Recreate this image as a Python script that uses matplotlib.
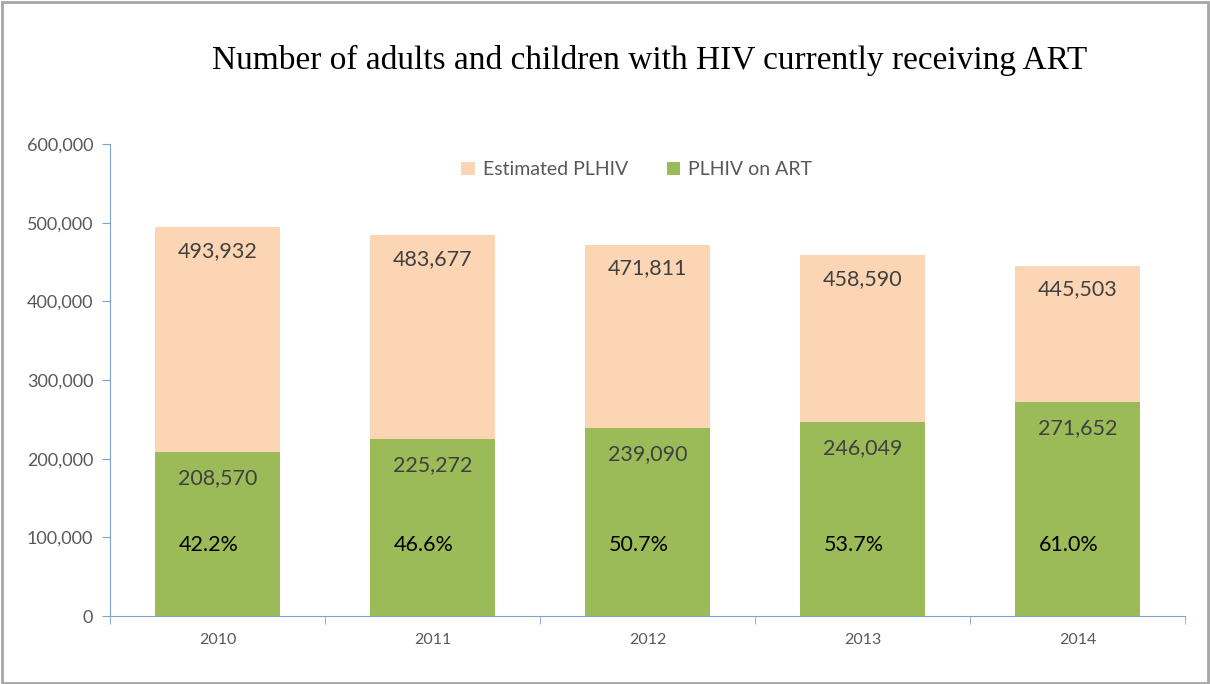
import matplotlib.pyplot as plt
from matplotlib.patches import Rectangle
from matplotlib.ticker import FuncFormatter

years = ["2010", "2011", "2012", "2013", "2014"]
estimated = [493932, 483677, 471811, 458590, 445503]
on_art = [208570, 225272, 239090, 246049, 271652]
pct = ["42.2%", "46.6%", "50.7%", "53.7%", "61.0%"]

peach = "#FCD5B4"
green = "#9BBB59"
axis_blue = "#7DA3D3"
grey = "#595959"
sans = ["Lato", "DejaVu Sans"]

fig = plt.figure(figsize=(12.1, 6.84), dpi=100)
ax = fig.add_axes([0.0909, 0.0994, 0.8884, 0.6901])

x = list(range(len(years)))
ax.bar(x, estimated, width=0.58, color=peach, label="Estimated PLHIV", zorder=2)
ax.bar(x, on_art, width=0.58, color=green, label="PLHIV on ART", zorder=3)

for i in x:
    ax.text(i, estimated[i] - 30000, f"{estimated[i]:,}", ha="center", va="center",
            fontsize=15.5, color="#404040", family=sans, zorder=4)
    ax.text(i, on_art[i] - 33000, f"{on_art[i]:,}", ha="center", va="center",
            fontsize=15.5, color="#404040", family=sans, zorder=4)
    ax.text(i - 0.04, 90000, pct[i], ha="center", va="center",
            fontsize=15.5, color="black", family=sans, zorder=4)

ax.set_xlim(-0.5, len(years) - 0.5)
ax.set_ylim(0, 600000)
ax.set_yticks(range(0, 600001, 100000))
ax.yaxis.set_major_formatter(FuncFormatter(lambda v, p: f"{int(v):,}"))
ax.set_xticks(x)
ax.set_xticklabels(years)
ax.set_xticks([i - 0.5 for i in range(len(years) + 1)], minor=True)
ax.tick_params(axis="x", which="major", length=0, pad=12, labelsize=11.5, labelcolor=grey)
ax.tick_params(axis="x", which="minor", length=6, direction="out", color=axis_blue)
ax.tick_params(axis="y", length=6, direction="out", color=axis_blue, labelsize=13,
               labelcolor=grey, pad=6)
for lab in ax.get_xticklabels() + ax.get_yticklabels():
    lab.set_family(sans)

for s in ["top", "right"]:
    ax.spines[s].set_visible(False)
ax.spines["left"].set_color(axis_blue)
ax.spines["bottom"].set_color(axis_blue)

leg = ax.legend(loc="upper center", bbox_to_anchor=(0.49, 1.0), ncol=2, frameon=False,
                handlelength=0.7, handleheight=0.7, handletextpad=0.4, columnspacing=2.0,
                prop={"family": sans, "size": 14})
for t in leg.get_texts():
    t.set_color(grey)

fig.text(0.537, 0.912, "Number of adults and children with HIV currently receiving ART",
         ha="center", va="center", fontsize=24, family="Liberation Serif", color="black")

fig.patches.append(Rectangle((0.002, 0.002), 0.996, 0.995, transform=fig.transFigure,
                             fill=False, edgecolor="#A6A6A6", linewidth=2))

fig.savefig("out.png", dpi=100)
